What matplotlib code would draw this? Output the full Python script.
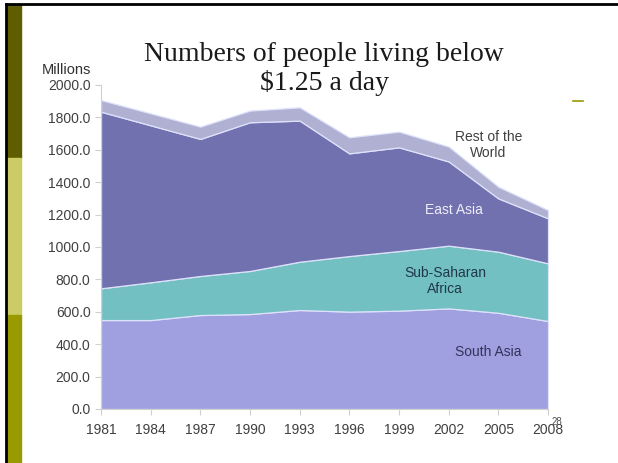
import numpy as np
import matplotlib
matplotlib.use('Agg')
import matplotlib.pyplot as plt
from matplotlib.patches import Rectangle
from matplotlib.lines import Line2D

# Millions of people living below $1.25 a day, by region
years = [1981, 1984, 1987, 1990, 1993, 1996, 1999, 2002, 2005, 2008]
south_asia = [549, 549, 580, 586, 611, 601, 607, 621, 594, 543]
sub_saharan = [196, 233, 241, 266, 298, 343, 368, 387, 377, 356]
east_asia = [1090, 969, 846, 918, 871, 634, 640, 520, 329, 278]
rest_world = [72, 74, 76, 72, 82, 99, 97, 92, 72, 51]

colors = ['#a09fe0', '#72c0c2', '#7171b0', '#b0b0d2']

fig = plt.figure(figsize=(6.18, 4.63), dpi=100)

# slide decoration: left colour bar and frame
fig.patches.append(Rectangle((7/618, 1 - 158/463), 14/618, 154/463,
                             transform=fig.transFigure, color='#5e5e00', zorder=0))
fig.patches.append(Rectangle((7/618, 1 - 315/463), 14/618, 157/463,
                             transform=fig.transFigure, color='#cccc66', zorder=0))
fig.patches.append(Rectangle((7/618, 0), 14/618, 1 - 315/463,
                             transform=fig.transFigure, color='#999900', zorder=0))
fig.lines.append(Line2D([6/618, 6/618], [0, 1 - 4/463], transform=fig.transFigure,
                        color='black', lw=2))
fig.lines.append(Line2D([6/618, 1], [1 - 4/463, 1 - 4/463], transform=fig.transFigure,
                        color='black', lw=2))
fig.lines.append(Line2D([573/618, 583/618], [1 - 101/463, 1 - 101/463],
                        transform=fig.transFigure, color='#999900', lw=1.2))

ax = fig.add_axes([101/618, 1 - 409/463, 447/618, 324/463])
ax.stackplot(years, south_asia, sub_saharan, east_asia, rest_world,
             colors=colors, edgecolor='#dde2fa', linewidth=0.9)

ax.set_xlim(1981, 2008)
ax.set_ylim(0, 2000)
ax.set_xticks(years)
ax.set_yticks(np.arange(0, 2001, 200))
ax.set_yticklabels([f'{v:.1f}' for v in np.arange(0, 2001, 200)])
for s in ['top', 'right']:
    ax.spines[s].set_visible(False)
for s in ['left', 'bottom']:
    ax.spines[s].set_color('#d0d0d0')
ax.tick_params(colors='#d0d0d0', labelcolor='#404040', labelsize=10, length=4)
ax.tick_params(axis='x', pad=6)
for lab in ax.get_xticklabels() + ax.get_yticklabels():
    lab.set_family('Liberation Sans')

# region labels
ax.text(2002.3, 1228, 'East Asia', ha='center', va='center', fontsize=10,
        color='#eeeef8', family='Liberation Sans')
ax.text(2004.4, 1630, 'Rest of the\nWorld', ha='center', va='center', fontsize=10,
        color='#404040', family='Liberation Sans', linespacing=1.2)
ax.text(2001.8, 790, 'Sub-Saharan\nAfrica', ha='center', va='center', fontsize=10,
        color='#203848', family='Liberation Sans', linespacing=1.2)
ax.text(2004.4, 352, 'South Asia', ha='center', va='center', fontsize=10,
        color='#33335a', family='Liberation Sans')

fig.text(42/618, 1 - 70/463, 'Millions', ha='left', va='center', fontsize=10.5,
         color='#303030', family='Liberation Sans')
fig.text(324/618, 1 - 69/463, 'Numbers of people living below\n$1.25 a day',
         ha='center', va='center', fontsize=20, color='#1a1a1a',
         family='Liberation Serif', linespacing=1.18)
fig.text(557/618, 1 - 422/463, '28', ha='center', va='center', fontsize=7,
         color='#505050', family='Liberation Sans')

fig.savefig('out.png', dpi=100)
